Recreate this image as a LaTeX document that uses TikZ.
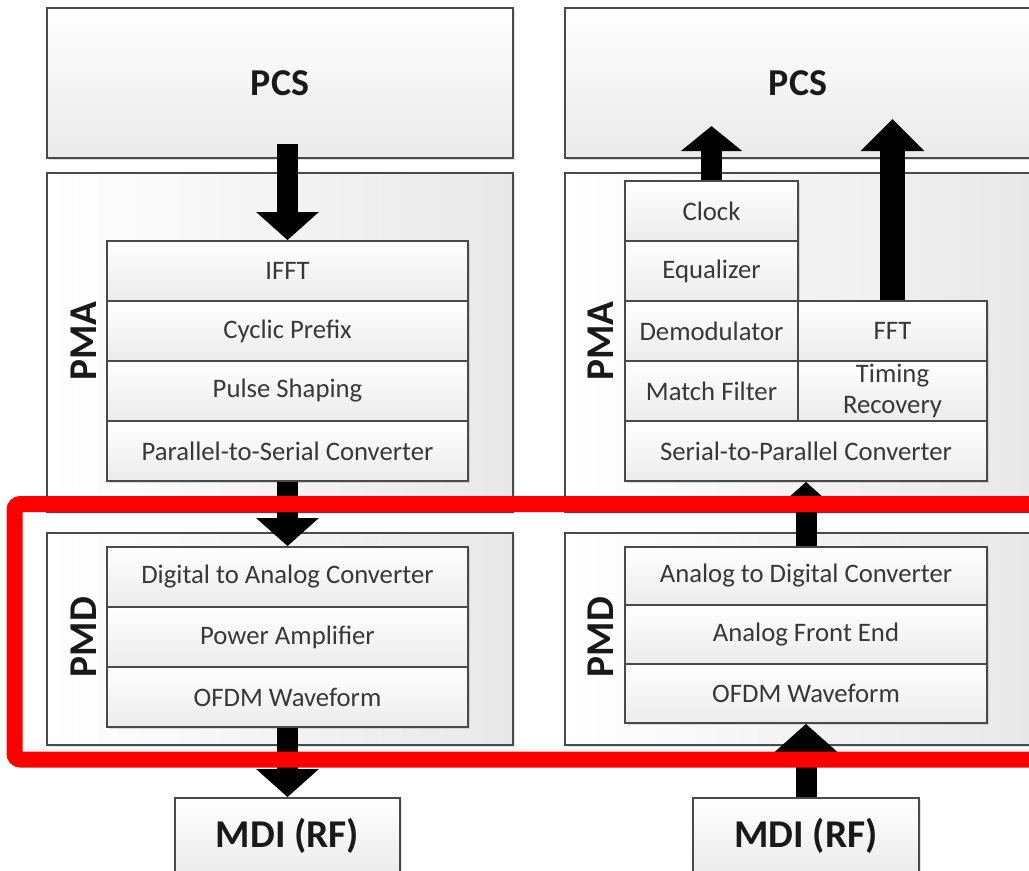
\documentclass[tikz,border=0pt]{standalone}
\usepackage{fontspec}
\setmainfont{Carlito}
\usetikzlibrary{arrows.meta,calc,shadows}

\definecolor{boxline}{HTML}{4A4A4A}
\definecolor{boxtext}{HTML}{383838}
\definecolor{fillend}{HTML}{E8E8E8}

\tikzset{
  softshadow/.style={drop shadow={shadow xshift=1.5pt,shadow yshift=-1.5pt,opacity=0.25}},
  layer/.style={draw=boxline, line width=1.5pt, inner sep=0pt, minimum width=11.65cm,
    left color=white, right color=fillend, softshadow},
  pcsbox/.style={layer, top color=white!98!fillend, bottom color=fillend!90!white,
    minimum height=3.75cm, font=\fontsize{27}{32}\selectfont\bfseries, text=black!90},
  blk/.style={draw=boxline, line width=1.3pt, inner sep=0pt, minimum height=1.5cm,
    top color=white, bottom color=fillend!85!white, softshadow,
    font=\fontsize{19}{22}\selectfont, text=boxtext, align=center},
  sidelabel/.style={rotate=90, font=\fontsize{28}{32}\selectfont\bfseries, text=black!90},
  mdibox/.style={blk, minimum height=1.9cm, font=\fontsize{28}{32}\selectfont\bfseries, text=black!90},
  fat/.style={black, line width=0.525cm, -{Triangle[width=1.525cm,length=0.7cm]}},
  redframe/.style={draw=red, line width=0.4cm, rounded corners=0.15cm}
}

\begin{document}
\begin{tikzpicture}
  \useasboundingbox (0,0) rectangle (25.725,-21.75);
  \clip (0,0) rectangle (25.725,-21.75);

  % transmit side
  \node[pcsbox] (pcsL) at (7.0,-2.075) {PCS};
  \node[layer, minimum height=8.475cm] (pmaL) at (7.0,-8.5625) {};
  \node[layer, minimum height=5.3cm] (pmdL) at (7.0,-15.975) {};
  \node[sidelabel] (pmaLlab) at (2.1,-8.525) {PMA};
  \node[sidelabel] (pmdLlab) at (2.1,-15.925) {PMD};

  \node[blk, minimum width=9.025cm] (ifft) at (7.1875,-6.775) {IFFT};
  \node[blk, minimum width=9.025cm] (cyc) at (7.1875,-8.275) {Cyclic Prefix};
  \node[blk, minimum width=9.025cm] (pulse) at (7.1875,-9.775) {Pulse Shaping};
  \node[blk, minimum width=9.025cm] (p2s) at (7.1875,-11.275) {Parallel-to-Serial Converter};

  \node[blk, minimum width=9.025cm] (dac) at (7.1875,-14.425) {Digital to Analog Converter};
  \node[blk, minimum width=9.025cm] (pa) at (7.1875,-15.925) {Power Amplifier};
  \node[blk, minimum width=9.025cm] (ofdmL) at (7.1875,-17.425) {OFDM Waveform};

  \node[mdibox, minimum width=5.625cm] (mdiL) at (7.1875,-20.9) {MDI (RF)};

  % receive side
  \node[pcsbox] (pcsR) at (19.95,-2.075) {PCS};
  \node[layer, minimum height=8.475cm] (pmaR) at (19.95,-8.5625) {};
  \node[layer, minimum height=5.3cm] (pmdR) at (19.95,-15.975) {};
  \node[sidelabel] (pmaRlab) at (15.025,-8.525) {PMA};
  \node[sidelabel] (pmdRlab) at (15.025,-15.925) {PMD};

  \node[blk, minimum width=4.325cm] (clock) at (17.7875,-5.275) {Clock};
  \node[blk, minimum width=4.325cm] (eq) at (17.7875,-6.775) {Equalizer};
  \node[blk, minimum width=4.325cm] (demod) at (17.7875,-8.275) {Demodulator};
  \node[blk, minimum width=4.325cm] (match) at (17.7875,-9.775) {Match Filter};
  \node[blk, minimum width=4.725cm] (fft) at (22.3125,-8.275) {FFT};
  \node[blk, minimum width=4.725cm] (timing) at (22.3125,-9.775) {Timing\\Recovery};
  \node[blk, minimum width=9.05cm] (s2p) at (20.15,-11.275) {Serial-to-Parallel Converter};

  \node[blk, minimum width=9.05cm, minimum height=1.45cm] (adc) at (20.15,-14.4) {Analog to Digital Converter};
  \node[blk, minimum width=9.05cm, minimum height=1.475cm] (afe) at (20.15,-15.8625) {Analog Front End};
  \node[blk, minimum width=9.05cm, minimum height=1.475cm] (ofdmR) at (20.15,-17.3375) {OFDM Waveform};

  \node[mdibox, minimum width=5.65cm] (mdiR) at (20.15,-20.9) {MDI (RF)};

  % block arrows
  \coordinate (txIn) at ($(ifft.north |- pcsL.south)+(0,0.375)$);
  \coordinate (clkTip) at ($(clock.north |- pcsR.south)+(0,0.825)$);
  \coordinate (fftTip) at ($(fft.north |- pcsR.south)+(0,1.0)$);

  \draw[fat] (txIn) -- (ifft.north);
  \draw[fat] (p2s.south) -- (dac.north);
  \draw[fat] (ofdmL.south) -- (mdiL.north);

  \draw[fat] (mdiR.north) -- (ofdmR.south);
  \draw[fat] (adc.north) -- (s2p.south);
  \draw[fat, -{Triangle[width=1.5cm,length=0.625cm]}] (clock.north) -- (clkTip);
  \draw[fat, line width=0.625cm, -{Triangle[width=1.55cm,length=0.8cm]}] (fft.north) -- (fftTip);

  % highlight
  \draw[redframe] (26.3,-12.6) -- (0.3625,-12.6) -- (0.3625,-18.9875) -- (26.3,-18.9875);
\end{tikzpicture}
\end{document}
